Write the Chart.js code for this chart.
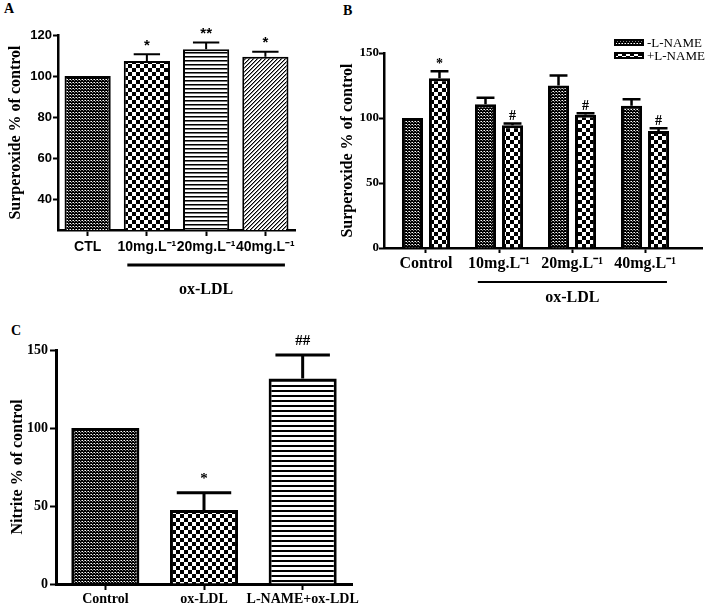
<!DOCTYPE html>
<html><head><meta charset="utf-8">
<script src="https://cdn.jsdelivr.net/npm/chart.js@4.4.0/dist/chart.umd.min.js"></script>
<style>
body{margin:0;background:#fff;width:709px;height:608px;position:relative;overflow:hidden}
canvas{position:absolute}
.lbl{position:absolute;font:bold 14px "Liberation Serif",serif;color:#000;line-height:14px}
</style></head><body>
<div class="lbl" style="left:4px;top:2px">A</div>
<div class="lbl" style="left:343px;top:4px">B</div>
<div class="lbl" style="left:11px;top:324px">C</div>
<canvas id="cA" width="305" height="305" style="left:0;top:0"></canvas>
<canvas id="cB" width="379" height="310" style="left:330px;top:0"></canvas>
<canvas id="cC" width="380" height="298" style="left:0;top:310px"></canvas>
<script>
// ---------- data ----------
const catsA = ['CTL', '10mg.L⁻¹', '20mg.L⁻¹', '40mg.L⁻¹'];
const valsA = [100, 107.3, 113, 109.4];
const errA = [0, 3.3, 3.4, 2.5];
const sigA = ['', '*', '**', '*'];
const ticksA = [40, 60, 80, 100, 120];

const catsB = ['Control', '10mg.L⁻¹', '20mg.L⁻¹', '40mg.L⁻¹'];
const seriesB = ['-L-NAME', '+L-NAME'];
const minusLB = [100, 110.5, 125, 109.5];
const errMinusLB = [0, 5, 7.6, 5];
const plusLB = [130.5, 94.5, 102.5, 90];
const errPlusLB = [5.5, 1.2, 1.2, 2.2];
const sigPlusLB = ['*', '#', '#', '#'];
const ticksB = [0, 50, 100, 150];

const catsC = ['Control', 'ox-LDL', 'L-NAME+ox-LDL'];
const valsC = [100, 47.4, 131.8];
const errC = [0, 11.1, 15];
const sigC = ['', '*', '##'];
const ticksC = [0, 50, 100, 150];

const groupLabel = 'ox-LDL';

// ---------- patterns ----------
function makePattern(w, h, draw) {
  const c = document.createElement('canvas'); c.width = w; c.height = h;
  const g = c.getContext('2d');
  g.fillStyle = '#fff'; g.fillRect(0, 0, w, h);
  draw(g, w, h);
  return g.createPattern(c, 'repeat');
}
const patFine = makePattern(3, 3, g => { g.fillStyle = '#000'; g.fillRect(0,0,3,3); g.fillStyle = '#fff'; g.fillRect(1,1,1,1); g.fillStyle = '#888'; g.fillRect(2,2,1,1); g.fillRect(0,1,1,1); });
const patCheck = makePattern(8, 8, g => { g.fillStyle = '#000'; g.fillRect(0,0,4,4); g.fillRect(4,4,4,4); });
const patH4 = makePattern(4, 4, g => { g.fillStyle = '#000'; g.fillRect(0,0,4,1); g.fillStyle = '#777'; g.fillRect(0,1,4,1); });
const patH5 = makePattern(5, 5, g => { g.fillStyle = '#000'; g.fillRect(0,0,5,2); });
const patDiag = makePattern(4, 4, g => { g.fillStyle = '#000'; [[3,0],[2,1],[1,2],[0,3]].forEach(p => g.fillRect(p[0],p[1],1,1)); g.fillStyle = '#888'; [[0,0],[3,1],[2,2],[1,3]].forEach(p => g.fillRect(p[0],p[1],1,1)); });

// ---------- plugins ----------
const errPlugin = {
  id: 'errs',
  afterDatasetsDraw(chart, args, o) {
    const ctx = chart.ctx, ys = chart.scales.y;
    chart.data.datasets.forEach((ds, di) => {
      const meta = chart.getDatasetMeta(di);
      meta.data.forEach((bar, i) => {
        const raw = ds.data[i];
        const val = (typeof raw === 'object') ? raw.y : raw;
        const e = ds.err ? ds.err[i] : 0;
        let topY = bar.y;
        ctx.save();
        ctx.strokeStyle = '#000'; ctx.lineWidth = o.lw; ctx.lineCap = 'butt';
        if (e > 0) {
          const yt = ys.getPixelForValue(val + e);
          const hw = bar.width * o.cap / 2;
          ctx.beginPath();
          ctx.moveTo(bar.x, bar.y); ctx.lineTo(bar.x, yt);
          ctx.moveTo(bar.x - hw, yt); ctx.lineTo(bar.x + hw, yt);
          ctx.stroke();
          topY = yt;
        }
        if (ds.sig && ds.sig[i]) {
          ctx.fillStyle = '#000'; ctx.font = o.sigFont;
          ctx.textAlign = 'center'; ctx.textBaseline = 'bottom';
          ctx.fillText(ds.sig[i], bar.x, topY - o.gap);
        }
        ctx.restore();
      });
    });
  }
};
const bracketPlugin = {
  id: 'bracket',
  afterDraw(chart, args, o) {
    const ctx = chart.ctx, xs = chart.scales.x;
    const x1 = xs.getPixelForValue(o.from), x2 = xs.getPixelForValue(o.to);
    ctx.save();
    ctx.strokeStyle = '#000'; ctx.lineWidth = o.lw;
    ctx.beginPath(); ctx.moveTo(x1, o.y); ctx.lineTo(x2, o.y); ctx.stroke();
    ctx.fillStyle = '#000'; ctx.font = o.font; ctx.textAlign = 'center'; ctx.textBaseline = 'middle';
    ctx.fillText(o.text, (x1 + x2) / 2 + (o.dx || 0), o.textY);
    ctx.restore();
  }
};
const boxLegend = {
  id: 'boxLegend',
  afterDraw(chart, args, o) {
    if (!o || !o.show) return;
    const ctx = chart.ctx;
    ctx.save();
    chart.data.datasets.forEach((ds, i) => {
      const y = o.y + i * o.dy;
      ctx.fillStyle = ds.backgroundColor; ctx.fillRect(o.x, y, o.w, o.h);
      ctx.strokeStyle = '#000'; ctx.lineWidth = 2; ctx.strokeRect(o.x, y, o.w, o.h);
      ctx.fillStyle = '#000'; ctx.font = o.font; ctx.textAlign = 'left'; ctx.textBaseline = 'middle';
      ctx.fillText(ds.label, o.x + o.w + 4, y + o.h / 2 + 1);
    });
    ctx.restore();
  }
};

const serifB = (s) => ({ family: '"Liberation Serif", "Times New Roman", serif', weight: 'bold', size: s });
const sansB = (s) => ({ family: '"Liberation Sans", Arial, sans-serif', weight: 'bold', size: s });

function yAxis(min, max, ticks, width, title, tickFont, titlePad, bw, tl, pad) {
  return {
    min: min, max: max,
    afterBuildTicks: s => { s.ticks = ticks.map(v => ({ value: v })); },
    afterFit: s => { s.width = width; },
    border: { color: '#000', width: bw },
    grid: { drawOnChartArea: false, drawTicks: true, tickLength: tl, tickColor: '#000', tickWidth: 2 },
    ticks: { color: '#000', font: tickFont, padding: pad },
    title: { display: true, text: title, color: '#000', font: serifB(16), padding: { top: titlePad, bottom: 0 } }
  };
}
function xCat(height, font, bw, tl, pad) {
  return {
    type: 'category', offset: true,
    afterFit: s => { s.height = height; },
    border: { color: '#000', width: bw },
    grid: { offset: false, drawOnChartArea: false, drawTicks: true, tickLength: tl, tickColor: '#000', tickWidth: 2 },
    ticks: { color: '#000', font: font, padding: pad, maxRotation: 0, autoSkip: false }
  };
}
const common = { responsive: false, devicePixelRatio: 1, animation: false, events: [] };

// ---------- Chart A ----------
new Chart(document.getElementById('cA'), {
  type: 'bar',
  data: {
    labels: catsA,
    datasets: [{
      data: valsA, err: errA, sig: sigA,
      backgroundColor: [patFine, patCheck, patH4, patDiag],
      borderColor: '#000', borderWidth: 2,
      categoryPercentage: 1, barPercentage: 0.78
    }]
  },
  options: Object.assign({}, common, {
    layout: { padding: { top: 35, right: 10, left: 0, bottom: 0 } },
    scales: {
      x: xCat(75, sansB(14), 2.5, 6, 3),
      y: yAxis(25, 120, ticksA, 58, 'Surperoxide % of control', sansB(13), 6, 2.5, 5, 1)
    },
    plugins: {
      legend: { display: false }, tooltip: { enabled: false },
      errs: { lw: 2, cap: 0.57, sigFont: 'bold 15px "Liberation Sans", Arial, sans-serif', gap: 1 },
      bracket: { from: 0.67, to: 3.33, y: 265, lw: 3, text: groupLabel, textY: 290, font: 'bold 16px "Liberation Serif", serif' }
    }
  }),
  plugins: [errPlugin, bracketPlugin]
});

// ---------- Chart B ----------
new Chart(document.getElementById('cB'), {
  type: 'bar',
  data: {
    datasets: [
      { label: seriesB[0], data: minusLB.map((v, i) => ({ x: i, y: v })), err: errMinusLB,
        backgroundColor: patFine, borderColor: '#000', borderWidth: 3, categoryPercentage: 0.74, barPercentage: 0.78 },
      { label: seriesB[1], data: plusLB.map((v, i) => ({ x: i, y: v })), err: errPlusLB, sig: sigPlusLB,
        backgroundColor: patCheck, borderColor: '#000', borderWidth: 3, categoryPercentage: 0.74, barPercentage: 0.78 }
    ]
  },
  options: Object.assign({}, common, {
    layout: { padding: { top: 53, right: 7, left: 0, bottom: 0 } },
    scales: {
      x: {
        type: 'linear', min: -0.575, max: 3.78, offset: false,
        afterBuildTicks: s => { s.ticks = catsB.map((c, i) => ({ value: i })); },
        afterFit: s => { s.height = 62; },
        border: { color: '#000', width: 2.5 },
        grid: { offset: false, drawOnChartArea: false, drawTicks: true, tickLength: 5, tickColor: '#000', tickWidth: 2 },
        ticks: { color: '#000', font: serifB(16), padding: 1, maxRotation: 0, autoSkip: false,
                 callback: v => catsB[v] }
      },
      y: yAxis(0, 150, ticksB, 54, 'Surperoxide % of control', serifB(13), 8, 2.5, 5, 0)
    },
    plugins: {
      legend: { display: false }, tooltip: { enabled: false },
      errs: { lw: 2.5, cap: 0.85, sigFont: 'bold 14px "Liberation Serif", serif', gap: 0 },
      bracket: { from: 0.71, to: 3.3, y: 282, lw: 2, text: groupLabel, textY: 298, font: 'bold 16px "Liberation Serif", serif' },
      boxLegend: { show: true, x: 285, y: 40, dy: 13, w: 28, h: 5, font: '13px "Liberation Serif", serif' }
    }
  }),
  plugins: [errPlugin, bracketPlugin, boxLegend]
});

// ---------- Chart C ----------
new Chart(document.getElementById('cC'), {
  type: 'bar',
  data: {
    labels: catsC,
    datasets: [{
      data: valsC, err: errC, sig: sigC,
      backgroundColor: [patFine, patCheck, patH5],
      borderColor: '#000', borderWidth: 3,
      categoryPercentage: 1, barPercentage: 0.69
    }]
  },
  options: Object.assign({}, common, {
    layout: { padding: { top: 40, right: 28, left: 0, bottom: 0 } },
    scales: {
      x: xCat(24, serifB(14), 3, 6, 1),
      y: yAxis(0, 150, ticksC, 56, 'Nitrite % of control', serifB(14), 8, 3, 6, 2)
    },
    plugins: {
      legend: { display: false }, tooltip: { enabled: false },
      errs: { lw: 3, cap: 0.8, sigFont: 'bold 15px "Liberation Serif", serif', gap: 6 }
    }
  }),
  plugins: [errPlugin]
});
</script>
</body></html>
